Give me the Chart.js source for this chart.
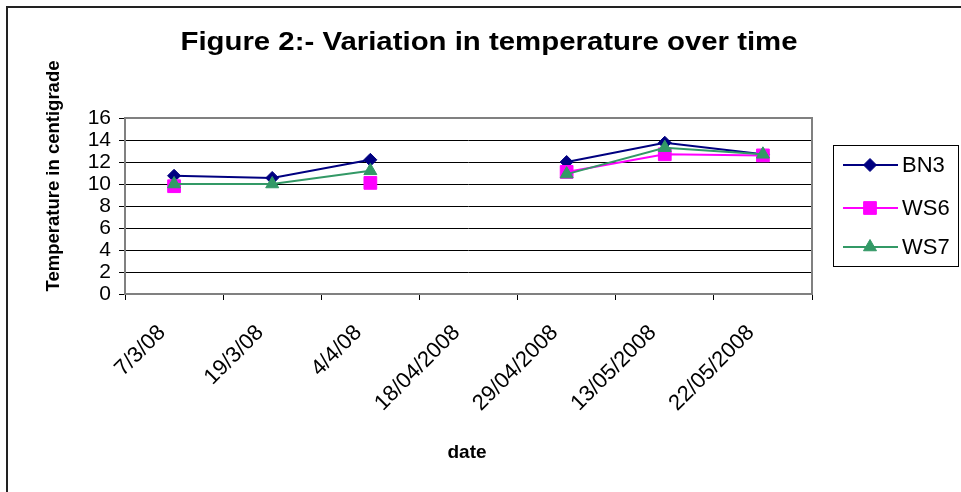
<!DOCTYPE html>
<html>
<head>
<meta charset="utf-8">
<script src="https://cdn.jsdelivr.net/npm/chart.js@4/dist/chart.umd.min.js"></script>
<style>
html,body{margin:0;padding:0;background:#fff;}
#wrap{width:961px;height:492px;position:relative;}
</style>
</head>
<body>
<div id="wrap"><canvas id="c" width="961" height="492"></canvas></div>
<script>
const categories = ['7/3/08','19/3/08','4/4/08','18/04/2008','29/04/2008','13/05/2008','22/05/2008'];
const bn3 = [10.75, 10.55, 12.2, null, 12.0, 13.75, 12.7];
const ws6 = [9.8, null, 10.1, null, 11.1, 12.7, 12.6];
const ws7 = [10.0, 10.0, 11.2, null, 10.9, 13.3, 12.7];
const seriesNames = ['BN3','WS6','WS7'];
const yTicks = [0,2,4,6,8,10,12,14,16];

const FONT = "'Liberation Sans', Arial, sans-serif";

const decor = {
  id: 'decor',
  beforeDatasetsDraw(chart) {
    const ctx = chart.ctx, a = chart.chartArea;
    ctx.save();
    ctx.strokeStyle = '#808080';
    ctx.lineWidth = 2;
    ctx.strokeRect(a.left, a.top, a.right - a.left, a.bottom - a.top);
    ctx.restore();
  },
  afterDraw(chart) {
    const ctx = chart.ctx;
    ctx.save();
    // outer frame (left and top edges visible)
    ctx.strokeStyle = '#222';
    ctx.lineWidth = 2;
    ctx.beginPath();
    ctx.moveTo(7, 492);
    ctx.lineTo(7, 7);
    ctx.lineTo(961, 7);
    ctx.stroke();
    // titles
    ctx.fillStyle = '#000';
    ctx.textAlign = 'center';
    ctx.textBaseline = 'middle';
    ctx.save();
    ctx.translate(489, 43);
    ctx.scale(1.13, 1);
    ctx.font = 'bold 26px ' + FONT;
    ctx.fillText('Figure 2:- Variation in temperature over time', 0, 0);
    ctx.restore();
    ctx.font = 'bold 19px ' + FONT;
    ctx.fillText('date', 467, 453);
    ctx.save();
    ctx.translate(54, 176);
    ctx.rotate(-Math.PI / 2);
    ctx.font = 'bold 18.5px ' + FONT;
    ctx.fillText('Temperature in centigrade', 0, 0);
    ctx.restore();
    // legend
    ctx.strokeStyle = '#000';
    ctx.lineWidth = 1;
    ctx.strokeRect(833.5, 145.5, 125, 121);
    const ys = [165, 208, 247];
    chart.data.datasets.forEach((ds, i) => {
      const y = ys[i];
      ctx.strokeStyle = ds.borderColor;
      ctx.lineWidth = ds.borderWidth;
      ctx.beginPath();
      ctx.moveTo(843, y);
      ctx.lineTo(898, y);
      ctx.stroke();
      ctx.fillStyle = ds.pointBackgroundColor;
      ctx.strokeStyle = ds.pointBorderColor;
      ctx.lineWidth = 1;
      Chart.helpers.drawPoint(ctx, {
        pointStyle: ds.pointStyle, rotation: 0, borderWidth: 1,
        radius: ds.pointRadius
      }, 870, y);
      ctx.fillStyle = '#000';
      ctx.font = '22px ' + FONT;
      ctx.textAlign = 'left';
      ctx.fillText(ds.label, 902, y + 1);
    });
    ctx.restore();
  }
};

const mk = (label, data, color, style, r, order) => ({
  label, data,
  borderColor: color, backgroundColor: color,
  pointBackgroundColor: color, pointBorderColor: color,
  pointStyle: style, pointRadius: r, pointHoverRadius: r,
  borderWidth: 2, pointBorderWidth: 1,
  spanGaps: false, tension: 0, order
});

const chart = new Chart(document.getElementById('c'), {
  type: 'line',
  data: {
    labels: categories,
    datasets: [
      mk(seriesNames[0], bn3, '#000080', 'rectRot', 6.5, 2),
      mk(seriesNames[1], ws6, '#FF00FF', 'rect', 9, 1),
      mk(seriesNames[2], ws7, '#339966', 'triangle', 7.5, 0)
    ]
  },
  options: {
    responsive: false,
    animation: false,
    events: [],
    layout: { padding: { left: 0, top: 118, right: 149, bottom: 0 } },
    plugins: { legend: { display: false }, title: { display: false }, tooltip: { enabled: false } },
    scales: {
      x: {
        type: 'category',
        offset: true,
        grid: { offset: true, drawOnChartArea: false, drawTicks: true, tickLength: 6, color: '#000', lineWidth: 1 },
        border: { display: false },
        ticks: { minRotation: 45, maxRotation: 45, color: '#000', font: { family: FONT, size: 22 }, padding: 20, labelOffset: -12, autoSkip: false },
        afterFit(s) { s.height = 198; }
      },
      y: {
        min: 0, max: 16,
        afterBuildTicks(s) { s.ticks = yTicks.map(v => ({ value: v })); },
        grid: { color: '#000', lineWidth: 1, tickLength: 6 },
        border: { display: false },
        ticks: { color: '#000', font: { family: FONT, size: 21 }, padding: 8, autoSkip: false },
        afterFit(s) { s.width = 125; }
      }
    }
  },
  plugins: [decor]
});
</script>
</body>
</html>
